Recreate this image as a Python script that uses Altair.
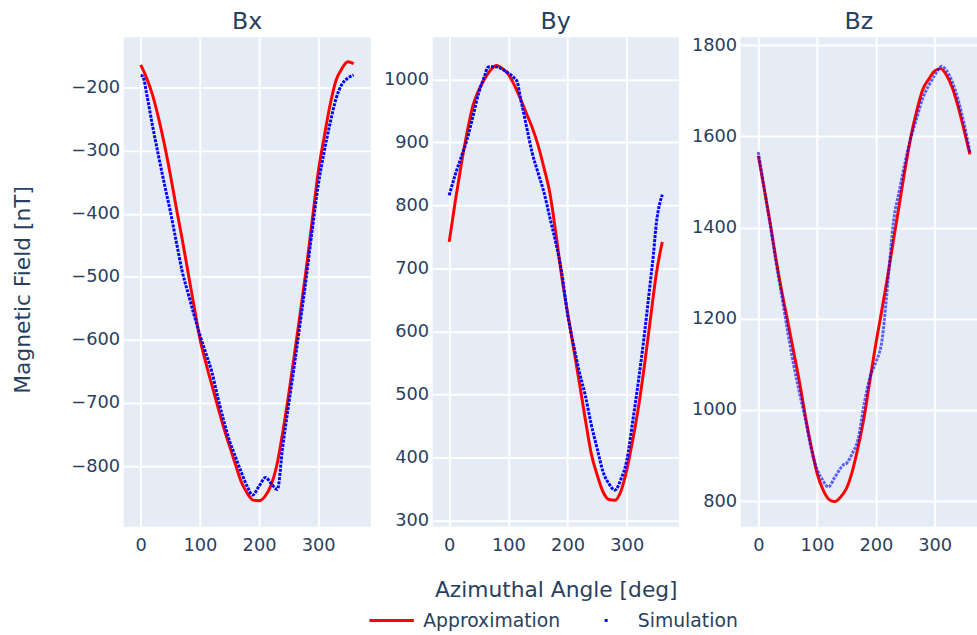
import altair as alt
import pandas as pd

FONT = "DejaVu Sans"
INK = "#2a3f5f"
BG = "#E5ECF6"

# Azimuthal angles (deg) on which the approximation is tabulated
ANGLES = [0, 10, 20, 30, 40, 50, 60, 70, 80, 90, 100, 110, 120, 130, 140, 150, 160, 170, 180,
          190, 200, 210, 220, 230, 240, 250, 260, 270, 280, 290, 300, 310, 320, 330, 340, 350, 360]

# Approximation (nT)
BX_APPROX = [-164, -185, -212, -248, -290, -338, -390, -440, -493, -546, -598, -636, -671, -705,
             -738, -768, -797, -825, -843, -854, -855, -848, -831, -799, -747, -687, -622, -555,
             -486, -410, -334, -279, -228, -189, -170, -159, -162]
BY_APPROX = [742, 805, 863, 915, 958, 983, 1001, 1015, 1022, 1017, 1008, 991, 970, 947, 924, 896,
             860, 820, 757, 688, 630, 574, 518, 460, 406, 372, 345, 333, 332, 346, 380, 427, 481,
             547, 620, 692, 742]
BZ_APPROX = [1558, 1486, 1412, 1332, 1260, 1195, 1129, 1062, 987, 920, 861, 825, 804, 799, 809,
             828, 866, 920, 984, 1066, 1146, 1218, 1293, 1373, 1452, 1531, 1603, 1659, 1704, 1726,
             1744, 1749, 1735, 1707, 1665, 1614, 1561]

# Simulation (nT), sampled with extra angles around the kinks
BX_SIM_ANGLES = [0, 4, 10, 20, 30, 40, 50, 60, 70, 80, 90, 100, 110, 120, 130, 140, 150, 160, 170,
                 180, 189, 200, 211, 220, 231, 240, 250, 260, 270, 280, 290, 300, 310, 320, 330,
                 340, 350, 360]
BX_SIM = [-180, -183, -210, -261, -308, -353, -396, -444, -491, -526, -560, -592, -621, -650, -690,
          -727, -760, -785, -810, -832, -846, -832, -818, -827, -837, -769, -703, -638, -570, -500,
          -425, -355, -302, -257, -218, -195, -185, -180]

BY_SIM_ANGLES = [0, 10, 20, 30, 40, 50, 60, 65, 70, 80, 90, 100, 110, 115, 120, 126, 130, 140, 150,
                 160, 170, 180, 190, 200, 210, 220, 230, 240, 250, 260, 270, 280, 290, 300, 310,
                 320, 330, 340, 345, 350, 355, 360]
BY_SIM = [816, 848, 876, 904, 941, 979, 1006, 1019, 1020, 1020, 1016, 1010, 1002, 996, 972, 946,
          928, 884, 852, 821, 781, 741, 694, 627, 579, 535, 498, 452, 414, 377, 358, 348, 365, 395,
          457, 523, 597, 680, 722, 772, 800, 817]

BZ_SIM_ANGLES = [0, 10, 20, 30, 40, 50, 60, 70, 80, 90, 100, 110, 119, 130, 141, 145, 150, 160,
                 170, 180, 190, 200, 211, 217, 221, 230, 240, 250, 260, 270, 280, 290, 300, 312,
                 320, 330, 340, 350, 360]
BZ_SIM = [1566, 1487, 1408, 1325, 1250, 1172, 1100, 1038, 980, 915, 870, 845, 831, 852, 874, 880,
          883, 905, 937, 1013, 1072, 1105, 1158, 1232, 1290, 1413, 1482, 1545, 1599, 1643, 1685,
          1712, 1734, 1754, 1745, 1720, 1680, 1628, 1565]

SERIES = ["Approximation", "Simulation"]
COLORS = ["red", "blue"]


def frame(approx, sim_angles, sim):
    a = pd.DataFrame({"angle": ANGLES, "field": approx, "series": SERIES[0]})
    s = pd.DataFrame({"angle": sim_angles, "field": sim, "series": SERIES[1]})
    return pd.concat([a, s], ignore_index=True)


# Legend: a line for the approximation, a single dot for the simulation
IS_SIM = "datum.value === 'Simulation'"
DOT_PATH = "M-0.066,0L0.066,0"
legend = alt.Legend(
    title=None,
    orient="none",
    legendX=247,
    legendY=566,
    direction="horizontal",
    symbolType=alt.ExprRef(expr=f"{IS_SIM} ? '{DOT_PATH}' : 'stroke'"),
    symbolSize=2025,
    symbolStrokeWidth=3,
    symbolDash=[1, 0],
    symbolOpacity=1,
    labelFont=FONT,
    labelFontSize=19,
    labelColor=INK,
    labelOffset=8,
    columnPadding=22,
)

color = alt.Color("series:N", scale=alt.Scale(domain=SERIES, range=COLORS), legend=legend)


def panel(name, data, xdom, ydom, yticks, width, sim_opacity, y_title=False, x_title=False):
    x_axis = dict(values=[0, 100, 200, 300], labelPadding=10, format="d")
    if x_title:
        x_axis.update(title="Azimuthal Angle [deg]", titleY=71, titleBaseline="alphabetic")
    else:
        x_axis.update(title=None)
    y_axis = dict(values=yticks, labelPadding=4, format="d")
    if y_title:
        y_axis.update(title="Magnetic Field [nT]", titleX=-95, titleY=255,
                      titleAngle=-90, titleBaseline="alphabetic")
    else:
        y_axis.update(title=None)

    x = alt.X("angle:Q", scale=alt.Scale(domain=xdom, nice=False, zero=False),
              axis=alt.Axis(**x_axis))
    y = alt.Y("field:Q", scale=alt.Scale(domain=ydom, nice=False, zero=False),
              axis=alt.Axis(**y_axis))
    base = alt.Chart(data)
    approx = base.transform_filter(alt.datum.series == SERIES[0]).mark_line(
        strokeWidth=3, interpolate="monotone", clip=True
    ).encode(x=x, y=y, color=color)
    sim = base.transform_filter(alt.datum.series == SERIES[1]).mark_line(
        strokeWidth=3, strokeDash=[3, 1.2], interpolate="monotone",
        opacity=sim_opacity, clip=True
    ).encode(x=x, y=y, color=color)
    return alt.layer(approx, sim).properties(
        width=width, height=495,
        title=alt.TitleParams(name, fontSize=24, font=FONT, color=INK, fontWeight="normal",
                              offset=3),
    )


bx = panel("Bx", frame(BX_APPROX, BX_SIM_ANGLES, BX_SIM), [-29, 389], [-896, -120],
           [-800, -700, -600, -500, -400, -300, -200], 250, 1.0, y_title=True)
by = panel("By", frame(BY_APPROX, BY_SIM_ANGLES, BY_SIM), [-28, 388], [290, 1067],
           [300, 400, 500, 600, 700, 800, 900, 1000], 249, 1.0, x_title=True)
bz = panel("Bz", frame(BZ_APPROX, BZ_SIM_ANGLES, BZ_SIM), [-30, 372], [744, 1818],
           [800, 1000, 1200, 1400, 1600, 1800], 239, 0.6)

chart = alt.hconcat(bx, by, bz, spacing=12.5).properties(
    padding={"left": 12, "top": 6, "right": 0, "bottom": 2},
    background="white",
).configure_view(
    fill=BG, strokeWidth=0
).configure_axis(
    domain=False, ticks=False, grid=True, gridColor="white", gridWidth=2,
    labelFont=FONT, labelFontSize=18, labelColor=INK,
    titleFont=FONT, titleFontSize=22, titleColor=INK, titleFontWeight="normal",
)

chart.save("out.html", embed_options={"renderer": "svg", "actions": False})
